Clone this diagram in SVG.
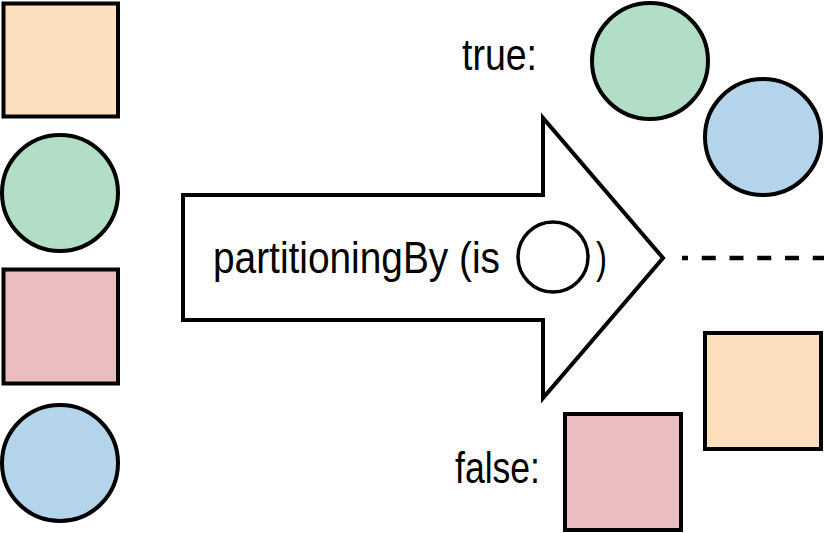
<svg xmlns="http://www.w3.org/2000/svg" width="824" height="533" viewBox="0 0 824 533">
<style>
.shape{stroke:#000;stroke-width:4;}
.orange{fill:#FDDFBD;}
.green{fill:#B2DEC8;}
.pink{fill:#ECBDC0;}
.blue{fill:#B3D4EA;}
.lbl{font-family:"Liberation Sans Narrow","Liberation Sans",Arial,sans-serif;font-size:44px;fill:#000;}
</style>
<rect width="824" height="533" fill="#fff"/>
<g id="input-orange-square"><rect class="shape orange" x="3.5" y="3.5" width="114.5" height="113"/></g>
<g id="input-green-circle"><circle class="shape green" cx="60" cy="193" r="58"/></g>
<g id="input-pink-square"><rect class="shape pink" x="3.5" y="269.5" width="114.5" height="114"/></g>
<g id="input-blue-circle"><circle class="shape blue" cx="60" cy="463" r="58"/></g>
<g id="arrow">
<polygon points="183,195 543,195 543,118 663,258 543,398 543,320 183,320" fill="#fff" stroke="#000" stroke-width="4" stroke-linejoin="miter"/>
<text class="lbl" x="213" y="273" textLength="287" lengthAdjust="spacingAndGlyphs">partitioningBy (is</text>
<circle cx="553" cy="257" r="35" fill="#fff" stroke="#000" stroke-width="3.5"/>
<text class="lbl" x="596" y="273" textLength="11" lengthAdjust="spacingAndGlyphs">)</text>
</g>
<g id="connectors">
<line x1="682" y1="258" x2="824" y2="258" stroke="#000" stroke-width="4.5" stroke-dasharray="14 13.75" stroke-dashoffset="8"/>
</g>
<g id="true-label"><text class="lbl" x="462" y="70" textLength="75" lengthAdjust="spacingAndGlyphs">true:</text></g>
<g id="true-green-circle"><circle class="shape green" cx="650" cy="61" r="58"/></g>
<g id="true-blue-circle"><circle class="shape blue" cx="763" cy="137" r="58"/></g>
<g id="false-label"><text class="lbl" x="455" y="483" textLength="85" lengthAdjust="spacingAndGlyphs">false:</text></g>
<g id="false-orange-square"><rect class="shape orange" x="705" y="333" width="116" height="116"/></g>
<g id="false-pink-square"><rect class="shape pink" x="565" y="414" width="116" height="116"/></g>
</svg>
